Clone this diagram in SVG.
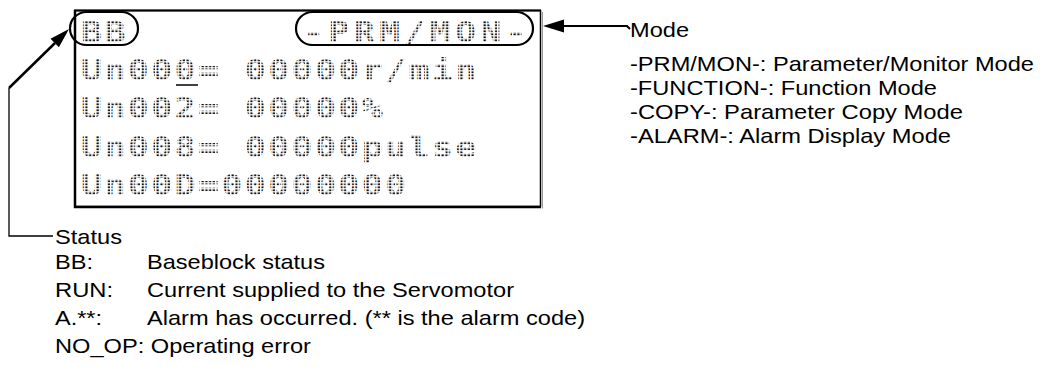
<svg xmlns="http://www.w3.org/2000/svg" width="1042" height="370" viewBox="0 0 1042 370">
<style>
.lbl{font-family:"Liberation Sans",Arial,sans-serif;font-size:21px;fill:#000}
.lcd{font-family:"DejaVu Sans Mono","Liberation Mono",monospace;font-size:28px;font-weight:bold;fill:url(#dots);letter-spacing:1.86px}
.oval{fill:none;stroke:#000;stroke-width:2.2}
.conn{fill:none;stroke:#000}
</style>
<defs>
<pattern id="dots" width="3" height="3" patternUnits="userSpaceOnUse">
<rect x="0.4" y="0.4" width="1.8" height="1.8" fill="#111"/>
</pattern>
</defs>
<rect width="1042" height="370" fill="#fff"/>
<g id="lcd">
<rect x="75" y="10.5" width="465.5" height="196" fill="#fff" stroke="#000" stroke-width="1.5"/>
<line x1="74" y1="10.5" x2="541" y2="10.5" stroke="#000" stroke-width="2"/>
<line x1="75" y1="10" x2="75" y2="208" stroke="#000" stroke-width="2.5"/>
<line x1="74" y1="207" x2="541" y2="207" stroke="#000" stroke-width="2.5"/>
<line x1="542.5" y1="12" x2="542.5" y2="208.5" stroke="#999" stroke-width="1"/>
<rect class="oval" x="70" y="12" width="68" height="33" rx="16.5"/>
<rect class="oval" x="296" y="12" width="237" height="33" rx="16.5"/>
<text class="lcd" transform="translate(81,42) scale(1.25,1)">BB</text>
<text class="lcd" transform="translate(303,42) scale(1.25,1)" style="letter-spacing:3.4px">-PRM/MON-</text>
<text class="lcd" transform="translate(81,80) scale(1.25,1)">Un000= 00000r/min</text>
<line x1="176" y1="85" x2="198" y2="85" stroke="#000" stroke-width="1.5"/>
<text class="lcd" transform="translate(81,118) scale(1.25,1)">Un002= 00000%</text>
<text class="lcd" transform="translate(81,157) scale(1.25,1)">Un008= 00000pulse</text>
<text class="lcd" transform="translate(81,195) scale(1.25,1)">Un00D=00000000</text>
</g>
<g id="connectors">
<polyline class="conn" stroke-width="1.3" points="53,236 9,236 9,88"/>
<line class="conn" stroke-width="2.5" x1="9" y1="88" x2="55" y2="43"/>
<polygon points="69,29 58.9,47.3 50.5,38.7" fill="#000"/>
<path class="conn" stroke-width="2" d="M562 26 H627 L630 29"/>
<polygon points="543,26 564,19.5 564,32.5" fill="#000"/>
</g>
<g id="mode">
<text class="lbl" x="630" y="37" textLength="59" lengthAdjust="spacingAndGlyphs">Mode</text>
<text class="lbl" x="630" y="71" textLength="404" lengthAdjust="spacingAndGlyphs">-PRM/MON-: Parameter/Monitor Mode</text>
<text class="lbl" x="630" y="95" textLength="307" lengthAdjust="spacingAndGlyphs">-FUNCTION-: Function Mode</text>
<text class="lbl" x="630" y="119" textLength="333" lengthAdjust="spacingAndGlyphs">-COPY-: Parameter Copy Mode</text>
<text class="lbl" x="630" y="143" textLength="321" lengthAdjust="spacingAndGlyphs">-ALARM-: Alarm Display Mode</text>
</g>
<g id="status">
<text class="lbl" x="55" y="244" textLength="67" lengthAdjust="spacingAndGlyphs">Status</text>
<text class="lbl" x="55" y="269" textLength="38" lengthAdjust="spacingAndGlyphs">BB:</text>
<text class="lbl" x="147" y="269" textLength="178" lengthAdjust="spacingAndGlyphs">Baseblock status</text>
<text class="lbl" x="55" y="297" textLength="58" lengthAdjust="spacingAndGlyphs">RUN:</text>
<text class="lbl" x="147" y="297" textLength="367" lengthAdjust="spacingAndGlyphs">Current supplied to the Servomotor</text>
<text class="lbl" x="55" y="325" textLength="47" lengthAdjust="spacingAndGlyphs">A.**:</text>
<text class="lbl" x="147" y="325" textLength="438" lengthAdjust="spacingAndGlyphs">Alarm has occurred. (** is the alarm code)</text>
<text class="lbl" x="55" y="353" textLength="256" lengthAdjust="spacingAndGlyphs">NO_OP: Operating error</text>
</g>
</svg>
